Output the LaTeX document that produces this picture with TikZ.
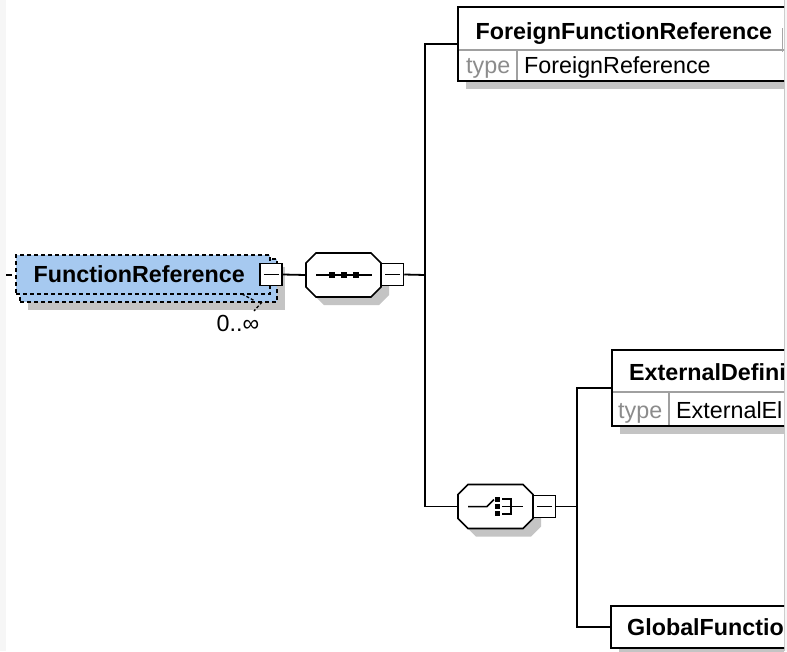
\documentclass[tikz,border=0pt]{standalone}
\usepackage{fontspec}
\setmainfont{Liberation Sans}
\definecolor{frblue}{HTML}{A6C9F0}
\definecolor{shadowgray}{HTML}{C4C4C4}
\definecolor{sepgray}{HTML}{A0A0A0}
\definecolor{typegray}{HTML}{8C8C8C}
\definecolor{stripgray}{HTML}{F6F6F6}
\begin{document}
\begin{tikzpicture}[x=1pt,y=-1pt,
  conn/.style={line width=1.8pt,draw=black},
  ebox/.style={draw=black,line width=1.8pt,fill=white,inner sep=0pt},
  sepline/.style={draw=sepgray,line width=1.1pt},
  shad/.style={fill=shadowgray,draw=none},
  dbox/.style={draw=black,line width=1.5pt,dash pattern=on 4pt off 3pt,fill=frblue,inner sep=0pt},
  namefont/.style={font=\fontsize{23.3}{28}\selectfont\bfseries,inner sep=0pt,anchor=base west},
  valfont/.style={font=\fontsize{23.3}{28}\selectfont,inner sep=0pt,anchor=base west},
  typefont/.style={valfont,text=typegray},
  minusbox/.style={draw=black,line width=1.5pt,fill=white,minimum width=22pt,minimum height=22pt,inner sep=0pt},
  comp/.style={minimum width=75pt,minimum height=44pt,inner sep=0pt},
  octa/.pic={
    \fill[shadowgray,shift={(8,8)}] (-27.5,-22) -- (27.5,-22) -- (37.5,-12) -- (37.5,12) -- (27.5,22) -- (-27.5,22) -- (-37.5,12) -- (-37.5,-12) -- cycle;
    \draw[line width=1.7pt,fill=white] (-27.5,-22) -- (27.5,-22) -- (37.5,-12) -- (37.5,12) -- (27.5,22) -- (-27.5,22) -- (-37.5,12) -- (-37.5,-12) -- cycle;
  },
  seqicon/.pic={
    \draw[line width=1.5pt] (-27.5,0) -- (28.5,0);
    \foreach \cx in {-11.5,0.5,12.5} \fill (\cx-3,-3) rectangle (\cx+3,3);
  },
  choicon/.pic={
    \draw[line width=1.5pt] (-27.5,0) -- (-8.5,0) -- (-1.5,-7);
    \foreach \cy in {-7,0,7} \fill (-0.5,\cy-2.3) rectangle (4,\cy+2.3);
    \draw[line width=1.5pt] (6.5,-7.5) -- (15.5,-7.5) -- (15.5,7.5) -- (6.5,7.5);
    \draw[line width=1.5pt] (6.5,0) -- (27.5,0);
  },
  minusbar/.pic={\draw[line width=1.5pt] (-7.5,0) -- (7.5,0);}
]
\useasboundingbox (0,0) rectangle (787,651);
\fill[white] (0,0) rectangle (787,651);
\fill[stripgray] (0,0) rectangle (6,651);
\fill[stripgray] (784,0) rectangle (787,651);
\draw[black!22,line width=0.8pt] (784,0) -- (784,651);

% ---------- FunctionReference (multiple, optional) ----------
\fill[shadowgray] (28,267) rectangle (285,310);
\node[dbox,minimum width=257pt,minimum height=43pt] (frb) at (148.5,280.5) {};
\node[dbox,minimum width=254pt,minimum height=39pt] (fr) at (143,274.5) {};
\node[namefont] (frtext) at (33.5,282) {FunctionReference};
\draw[line width=1.3pt,dash pattern=on 3pt off 2pt] (242,294) -- (255,301);
\draw[line width=1.3pt,dash pattern=on 3pt off 2pt] (262,302) -- (254,311);
\node[valfont] (mult) at (216.5,331) {0..∞};
\node[minusbox] (m1) at (271,274.5) {};
\pic at (m1) {minusbar};
\coordinate (inl) at (6,275);
\coordinate (inr) at (12,275);
\draw[conn] (inl) -- (inr);

% ---------- sequence compositor ----------
\node[comp] (seq) at (343.5,275) {};
\pic at (seq) {octa};
\pic at (seq) {seqicon};
\node[minusbox] (m2) at (392.5,274.5) {};
\pic at (m2) {minusbar};
\draw[conn] (m1.east) -- (seq.west);

% ---------- choice compositor ----------
\node[comp,minimum height=45pt] (cho) at (495.5,506.5) {};
\pic at (cho) {octa};
\pic at (cho) {choicon};
\node[minusbox] (m3) at (544.5,506.5) {};
\pic at (m3) {minusbar};

% ---------- element boxes (clipped at the window edge) ----------
\begin{scope}
\clip (0,0) rectangle (784,651);
\fill[shadowgray] (466,15) rectangle (808,89);
\node[ebox,minimum width=342pt,minimum height=74pt] (ffr) at (629,44) {};
\draw[sepline] (458.9,50) -- (800,50);
\draw[sepline] (517,50) -- (517,80.1);
\node[namefont] (ffrname) at (475.5,39.5) {ForeignFunctionReference};
\node[typefont] (ffrtype) at (466,73) {type};
\node[valfont] (ffrval) at (524,73) {ForeignReference};
\draw[black!35,line width=1pt] (782,28) -- (782,52);

\fill[shadowgray] (620,358) rectangle (808,434);
\node[ebox,minimum width=188pt,minimum height=76pt] (edf) at (706,388) {};
\draw[sepline] (612.9,392) -- (800,392);
\draw[sepline] (669,392) -- (669,425.1);
\node[namefont] (edfname) at (629,380) {ExternalDefini};
\node[typefont] (edftype) at (618,418) {type};
\node[valfont] (edfval) at (676,418) {ExternalEl};

\fill[shadowgray] (619,614) rectangle (808,656);
\node[ebox,minimum width=189pt,minimum height=42pt] (gf) at (705.5,627) {};
\node[namefont] (gfname) at (627,635) {GlobalFunctio};
\end{scope}

% ---------- connectors ----------
\coordinate (b1) at (425,275);
\coordinate (b2) at (577,506.5);
\draw[conn] (m2.east) -- (b1);
\draw[conn] (ffr.west) -| (b1) |- (cho.west);
\draw[conn] (m3.east) -- (b2);
\draw[conn] (edf.west) -| (b2) |- (gf.west);
\end{tikzpicture}
\end{document}
